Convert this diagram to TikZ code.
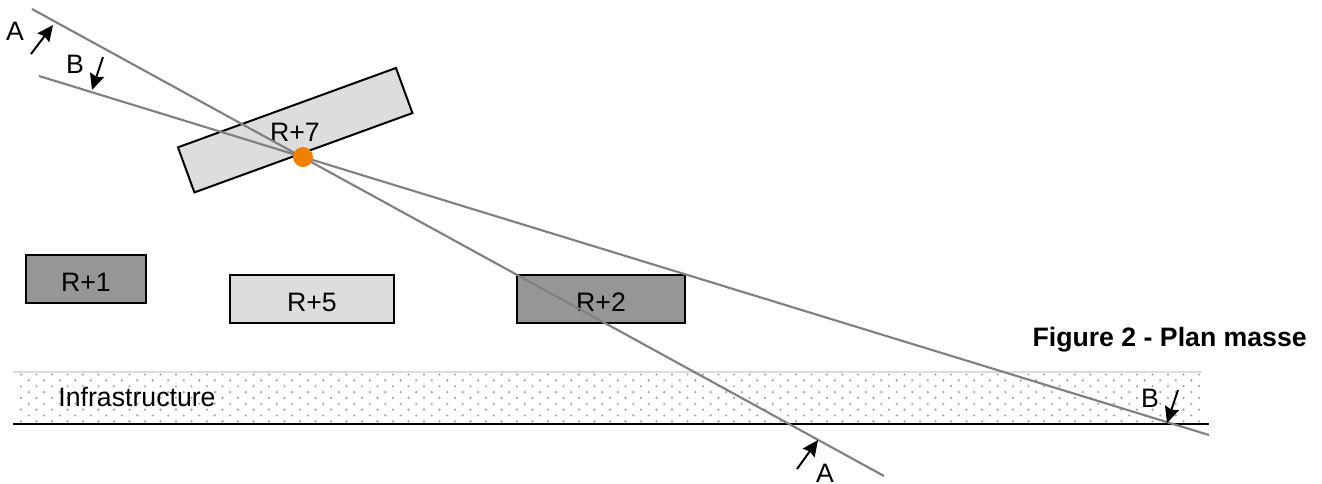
\documentclass[tikz,border=0pt]{standalone}
\usepackage{fontspec}
\setmainfont{Liberation Sans}
\definecolor{lightblock}{HTML}{DDDDDD}
\definecolor{darkblock}{HTML}{969696}
\definecolor{sightline}{HTML}{808080}
\definecolor{dotcolor}{HTML}{A0A0A0}
\definecolor{pointcolor}{HTML}{F08000}
\usetikzlibrary{arrows.meta}
\tikzset{
  block/.style={draw=black, line width=1.5pt, minimum height=36pt, inner sep=0pt, text height=19pt, text depth=0pt, font=\fontsize{20}{22}\selectfont},
  label/.style={inner sep=0pt, font=\fontsize{20}{22}\selectfont},
  sight/.style={draw=sightline, line width=1.6pt},
  marker/.style={draw=black, line width=1.5pt, -{Stealth[length=12pt,width=11pt,inset=1.5pt]}},
}
\begin{document}
\begin{tikzpicture}[x=0.75pt, y=-0.75pt]
      \useasboundingbox (0,0) rectangle (1322,483);

      % infrastructure band
      \foreach \row in {0,...,8} {
        \foreach \col in {0,...,76} {
          \pgfmathsetmacro{\dotx}{21+15.5*\col+7.75*mod(\row,2)}
          \pgfmathsetmacro{\doty}{374.5+5.85*\row}
          \ifdim \dotx pt<1204pt
            \fill[dotcolor] (\dotx,\doty) circle[radius=1.2];
          \fi
        }
      }
      \coordinate (g1) at (13,424);
      \coordinate (g2) at (1209,424);
      \coordinate (t1) at (13,372);
      \coordinate (t2) at (1202,372);
      \draw[line width=1pt, lightblock] (t1) -- (t2);
      \draw[line width=1.5pt] (g1) -- (g2);
      \node[label] (infra) at (137,397) {Infrastructure};

      % buildings
      \node[block, fill=darkblock, minimum width=90pt] (r1) at (86,279) {R+1};
      \node[block, fill=lightblock, minimum width=123pt] (r5) at (312,298.5) {R+5};
      \node[block, fill=darkblock, minimum width=126pt] (r2) at (601,298.5) {R+2};
      \node[block, fill=lightblock, minimum width=174pt, rotate=20] (r7) at (295.2,130.2) {};
      \node[label] (r7text) at (295,132) {R+7};

      % section lines
      \coordinate (a1) at (32,9);
      \coordinate (a2) at (884,476);
      \coordinate (b1) at (39,76);
      \coordinate (b2) at (1209,435);
      \draw[sight] (a1) -- (a2);
      \draw[sight] (b1) -- (b2);
      \node[circle, fill=pointcolor, minimum size=15pt, inner sep=0pt] (p) at (303,157) {};

      % section markers
      \coordinate (ma1) at (31,54);
      \coordinate (ma2) at (53,25);
      \coordinate (mb1) at (103,57);
      \coordinate (mb2) at (92,90);
      \coordinate (mc1) at (797,469);
      \coordinate (mc2) at (818,440);
      \coordinate (md1) at (1178,390);
      \coordinate (md2) at (1167,423);
      \draw[marker] (ma1) -- (ma2);
      \draw[marker] (mb1) -- (mb2);
      \draw[marker] (mc1) -- (mc2);
      \draw[marker] (md1) -- (md2);
      \node[label] (la) at (15,31) {A};
      \node[label] (lb) at (75,64) {B};
      \node[label] (lc) at (825,473) {A};
      \node[label] (ld) at (1150,398) {B};

      \node[label, anchor=east, font=\fontsize{20}{22}\selectfont\bfseries] (title) at (1307,340) {Figure 2 - Plan masse};
    \end{tikzpicture}
\end{document}
